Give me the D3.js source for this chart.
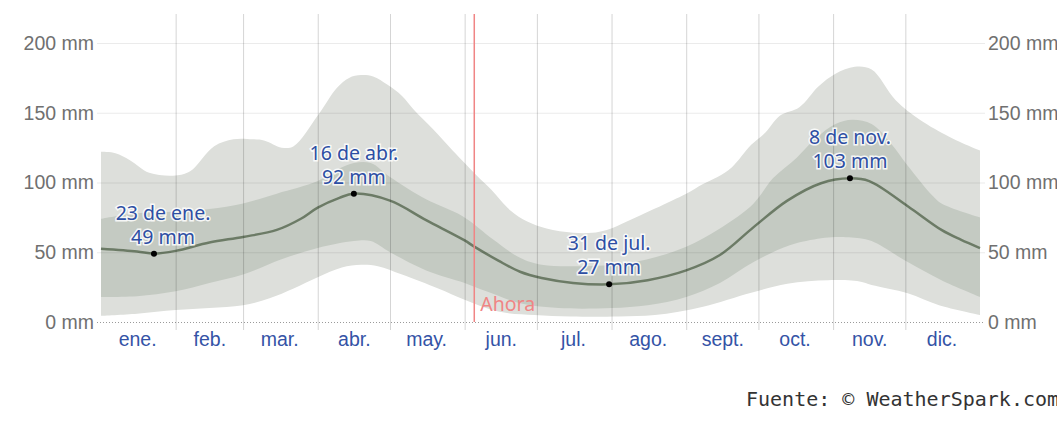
<!DOCTYPE html>
<html>
<head>
<meta charset="utf-8">
<script src="https://cdn.jsdelivr.net/npm/d3@7"></script>
<style>
  body { margin: 0; background: #fff; }
  svg { display: block; font-family: "Noto Sans", sans-serif; }
</style>
</head>
<body>
<svg width="1057" height="431"></svg>
<script>
// day of year (0 = 1 Jan), precipitation in mm
var p90 = [[0,122],[6,121],[12,116],[20,107],[31,105],[37,108],[47,126],[55,131],[63,131],[68,130],[75,125],[80,126],
  [90,148],[98,168],[103,175],[108,177],[113,176],[119,170],[125,162],[130,152],[138,138],[146,123],[151,114],
  [156,105],[162,95],[170,80],[177,72],[185,67],[196,64],[204,64],[210,66],[222,75],[237,87],[243,92],[250,99],
  [256,104],[262,111],[270,127],[276,136],[282,148],[290,154],[298,169],[305,178],[313,183],[320,181],[330,159],
  [340,145],[352,133],[358,128],[365,123]];
var p75 = [[0,74],[15,78],[31,79],[45,81],[59,85],[73,92],[90,101],[99,110],[105,114],[112,114],[120,104],
  [135,88],[150,76],[163,59],[174,46],[183,41],[200,40],[212,41],[227,45],[243,54],[257,67],[271,85],[279,103],
  [289,118],[297,132],[305,142],[312,145],[320,142],[328,128],[335,112],[345,91],[349,85],[365,75]];
var p50 = [[0,52.5],[15,50.5],[22,49],[31,51],[45,57],[59,61],[73,66],[83,74],[90,82],[99,89],[105,92],[120,87],
  [135,73],[151,58.5],[155,54],[165,44],[174,36],[183,31.5],[196,28],[211,27],[227,30],[243,37],[257,48],
  [271,68],[285,87],[299,99.5],[311,103],[319,101],[335,83],[349,66],[357,59],[365,53]];
var p25 = [[0,18],[15,18.5],[31,22],[45,28],[59,34],[75,45],[90,53],[105,58],[112,58],[120,50],[135,37],[151,28],
  [160,22],[175,13],[190,10],[212,10],[227,12],[243,18],[257,28],[271,43],[286,55],[299,60],[305,61],[315,60],
  [320,58],[335,43],[349,30],[365,18]];
var p10 = [[0,4.5],[15,6],[31,8.6],[45,10],[59,12],[70,17],[80,24],[90,32],[100,39],[108,41],[115,40],[125,34],
  [140,24],[151,16],[165,7.5],[180,5],[195,4],[215,4],[230,5],[250,11],[270,21],[285,27.5],[302,30],[315,29],
  [320,26.5],[335,20.6],[348,12],[365,5]];

var monthStarts = [31, 59, 90, 120, 151, 181, 212, 243, 273, 304, 334];
var monthMids = [15, 45, 74, 105, 135, 166, 196, 227, 258, 288, 319, 349];
var monthNames = ["ene.", "feb.", "mar.", "abr.", "may.", "jun.", "jul.", "ago.", "sept.", "oct.", "nov.", "dic."];
var mmTicks = [0, 50, 100, 150, 200];

var extremes = [
  {day: 22, mm: 49, date: "23 de ene."},
  {day: 105, mm: 92, date: "16 de abr."},
  {day: 211, mm: 27, date: "31 de jul."},
  {day: 311, mm: 103, date: "8 de nov."}
];
var nowDay = 155;

var svg = d3.select("svg");

var x = d3.scaleLinear().domain([0, 365]).range([101, 980]);
var y = d3.scaleLinear().domain([0, 200]).range([322, 43]);

var edge = d3.line()
  .x(d => x(d[0]))
  .y(d => y(d[1]))
  .curve(d3.curveCatmullRom.alpha(0.5));

function band(upper, lower) {
  var back = edge(lower.slice().reverse());
  return edge(upper) + "L" + back.slice(1) + "Z";
}

// bands
svg.append("path")
  .attr("d", band(p90, p10))
  .attr("fill", "#dddfdb");

svg.append("path")
  .attr("d", band(p75, p25))
  .attr("fill", "#c4cac2");

// median
svg.append("path")
  .attr("d", edge(p50))
  .attr("fill", "none")
  .attr("stroke", "#6c7b66")
  .attr("stroke-width", 2.5);

// horizontal grid + left labels
var left = svg.append("g")
  .attr("transform", "translate(97,0)")
  .call(d3.axisLeft(y)
    .tickValues(mmTicks)
    .tickFormat(d => d + " mm")
    .tickSize(-(985 - 97))
    .tickPadding(3));
left.select(".domain").remove();
left.selectAll(".tick line")
  .attr("stroke", d => d === 0 ? "#9a9a9a" : "rgba(0,0,0,0.08)")
  .attr("stroke-dasharray", d => d === 0 ? "1,2" : null);
left.selectAll(".tick text")
  .attr("fill", "#707070")
  .style("font-size", "19.5px");

var right = svg.append("g")
  .attr("transform", "translate(985,0)")
  .call(d3.axisRight(y)
    .tickValues(mmTicks)
    .tickFormat(d => d + " mm")
    .tickSize(0)
    .tickPadding(3));
right.select(".domain").remove();
right.selectAll(".tick text")
  .attr("fill", "#707070")
  .style("font-size", "19.5px");

// vertical month grid
var vgrid = svg.append("g")
  .attr("transform", "translate(0,330)")
  .call(d3.axisBottom(x)
    .tickValues(monthStarts)
    .tickFormat("")
    .tickSize(-316));
vgrid.select(".domain").remove();
vgrid.selectAll(".tick line").attr("stroke", "rgba(0,0,0,0.17)");

// month labels
var months = svg.append("g")
  .attr("transform", "translate(0,322)")
  .call(d3.axisBottom(x)
    .tickValues(monthMids)
    .tickFormat((d, i) => monthNames[i])
    .tickSize(0)
    .tickPadding(10));
months.select(".domain").remove();
months.selectAll(".tick text")
  .attr("fill", "#3453a6")
  .style("font-size", "19.5px");

// now line
svg.append("line")
  .attr("x1", x(nowDay)).attr("x2", x(nowDay))
  .attr("y1", 14).attr("y2", 322)
  .attr("stroke", "#f08585")
  .attr("stroke-width", 1.5);

svg.append("text")
  .attr("x", x(nowDay) + 6)
  .attr("y", 311)
  .attr("fill", "#f08585")
  .style("font-size", "19.5px")
  .text("Ahora");

// extremes
svg.selectAll("circle.ext")
  .data(extremes)
  .enter()
  .append("circle")
    .attr("class", "ext")
    .attr("cx", d => x(d.day))
    .attr("cy", d => y(d.mm))
    .attr("r", 3)
    .attr("fill", "#000");

var labels = svg.selectAll("g.lab")
  .data(extremes)
  .enter()
  .append("g")
    .attr("class", "lab")
    .attr("transform", d => `translate(${Math.max(x(d.day), 163)},${y(d.mm)})`);

labels.append("text")
  .attr("y", -34)
  .text(d => d.date);
labels.append("text")
  .attr("y", -10)
  .text(d => d.mm + " mm");

labels.selectAll("text")
  .style("text-anchor", "middle")
  .style("font-size", "19.5px")
  .attr("fill", "#2d4ea3")
  .attr("stroke", "rgba(255,255,255,0.85)")
  .attr("stroke-width", 3)
  .attr("paint-order", "stroke");

// source
svg.append("text")
  .attr("x", 746)
  .attr("y", 406)
  .attr("fill", "#333")
  .style("font-family", "'DejaVu Sans Mono', monospace")
  .style("font-size", "20px")
  .text("Fuente: © WeatherSpark.com");
</script>
</body>
</html>
